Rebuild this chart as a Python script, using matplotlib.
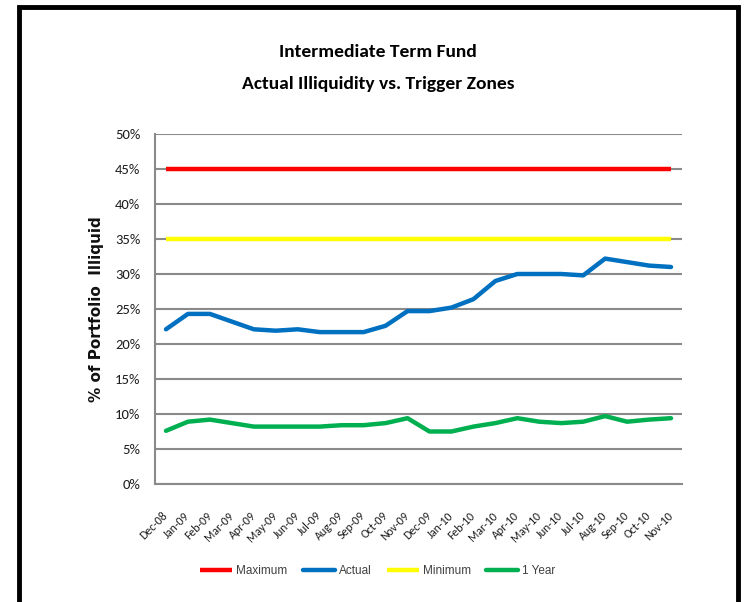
import matplotlib
matplotlib.use("Agg")
import matplotlib.pyplot as plt
from matplotlib.patches import Rectangle
from matplotlib.ticker import PercentFormatter

months = ["Dec-08", "Jan-09", "Feb-09", "Mar-09", "Apr-09", "May-09", "Jun-09",
          "Jul-09", "Aug-09", "Sep-09", "Oct-09", "Nov-09", "Dec-09", "Jan-10",
          "Feb-10", "Mar-10", "Apr-10", "May-10", "Jun-10", "Jul-10", "Aug-10",
          "Sep-10", "Oct-10", "Nov-10"]
maximum = [45.0] * 24
minimum = [35.0] * 24
actual = [22.1, 24.3, 24.3, 23.2, 22.1, 21.9, 22.1, 21.7, 21.7, 21.7, 22.6, 24.7,
          24.7, 25.2, 26.4, 29.0, 30.0, 30.0, 30.0, 29.8, 32.2, 31.7, 31.2, 31.0]
one_year = [7.6, 8.9, 9.2, 8.7, 8.2, 8.2, 8.2, 8.2, 8.4, 8.4, 8.7, 9.4,
            7.5, 7.5, 8.2, 8.7, 9.4, 8.9, 8.7, 8.9, 9.7, 8.9, 9.2, 9.4]
yticks = [0, 5, 10, 15, 20, 25, 30, 35, 40, 45, 50]

calibri = ["Carlito", "DejaVu Sans"]

fig = plt.figure(figsize=(7.5, 6.02), dpi=100)
ax = fig.add_axes([155 / 750, 1 - 484 / 602, (682 - 155) / 750, (484 - 134) / 602])

x = list(range(len(months)))
ax.plot(x, maximum, color="#FF0000", lw=3.2, label="Maximum", solid_capstyle="butt", zorder=3)
ax.plot(x, actual, color="#0070C0", lw=3.2, label="Actual", solid_capstyle="round", zorder=3)
ax.plot(x, minimum, color="#FFFF00", lw=3.2, label="Minimum", solid_capstyle="butt", zorder=3)
ax.plot(x, one_year, color="#00B050", lw=3.2, label="1 Year", solid_capstyle="round", zorder=3)

ax.set_xlim(-0.5, len(months) - 0.5)
ax.set_ylim(0, 50)
ax.set_yticks(yticks)
ax.yaxis.set_major_formatter(PercentFormatter(decimals=0))
ax.grid(axis="y", color="#8a8a8a", lw=1.5, zorder=1)
ax.set_axisbelow(True)
for s in ["top", "right"]:
    ax.spines[s].set_visible(False)
for s in ["left", "bottom"]:
    ax.spines[s].set_color("#8a8a8a")
    ax.spines[s].set_linewidth(1.5)

ax.tick_params(axis="y", length=0, pad=10.5, labelsize=10.5, labelcolor="#1e1e1e")
for lab in ax.get_yticklabels():
    lab.set_family(calibri)

ax.set_xticks(x)
ax.set_xticklabels(months)
ax.tick_params(axis="x", length=0, pad=21.5, labelsize=8.6, labelcolor="#1e1e1e")
for lab in ax.get_xticklabels():
    lab.set_rotation(45)
    lab.set_rotation_mode("anchor")
    lab.set_ha("right")
    lab.set_va("center")
    lab.set_family(calibri)

ax.set_ylabel("% of Portfolio  Illiquid", fontsize=11, fontweight="bold",
              family="DejaVu Sans", color="#111111")
ax.yaxis.label.set_va("center")
ax.yaxis.set_label_coords(-(155 - 97) / 527, 0.5)

fig.text(378 / 750, 1 - 57 / 602, "Intermediate Term Fund", ha="center", va="baseline",
         fontsize=14, fontweight="bold", family=calibri)
fig.text(378 / 750, 1 - 89 / 602, "Actual Illiquidity vs. Trigger Zones", ha="center", va="baseline",
         fontsize=14, fontweight="bold", family=calibri)

leg = fig.legend(loc="center", bbox_to_anchor=(378 / 750, 1 - 571 / 602), ncol=4,
                 frameon=False, handlelength=2.7, handletextpad=0.35, columnspacing=1.3,
                 prop={"family": "Liberation Sans", "size": 8.5})
for t in leg.get_texts():
    t.set_color("#404040")

fig.patches.append(Rectangle((19 / 750, -0.05), (738 - 19) / 750, 1.05 - 7 / 602,
                             transform=fig.transFigure, fill=False, ec="black", lw=3.5))

fig.savefig("out.png", dpi=100)
